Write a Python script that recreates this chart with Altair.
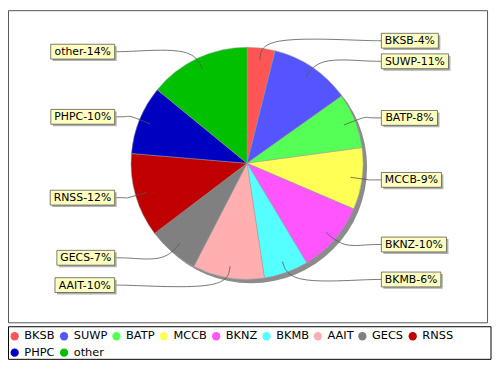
import math
import altair as alt
import pandas as pd

# ---- data ----
names = ["BKSB", "SUWP", "BATP", "MCCB", "BKNZ", "BKMB", "AAIT", "GECS", "RNSS", "PHPC", "other"]
shares = [3.9, 11.3, 7.7, 8.6, 10.0, 6.2, 10.0, 7.1, 11.7, 9.6, 14.1]
labels = ["BKSB-4%", "SUWP-11%", "BATP-8%", "MCCB-9%", "BKNZ-10%", "BKMB-6%",
          "AAIT-10%", "GECS-7%", "RNSS-12%", "PHPC-10%", "other-14%"]
colors = ["#FF5555", "#5555FF", "#55FF55", "#FFFF55", "#FF55FF", "#55FFFF",
          "#FFAFAF", "#808080", "#C00000", "#0000C0", "#00C000"]

# ---- layout ----
W, H = 490, 354
CX, CY, R = 242, 155, 117.5
LABEL_R = 125
RIGHT_X, LEFT_X = 378, 108
BOX_H = 15
FONT = "DejaVu Sans"
LFS = 11

ADV = {"A": 1401, "B": 1405, "C": 1430, "E": 1294, "G": 1577, "H": 1540, "I": 604,
       "K": 1339, "M": 1767, "N": 1532, "P": 1235, "R": 1423, "S": 1300, "T": 1251,
       "U": 1499, "W": 2025, "Z": 1403, "o": 1253, "t": 803, "h": 1298, "e": 1260,
       "r": 842, "-": 739, "%": 1946}


def text_w(s, fs):
    return sum(ADV.get(c, 1303) for c in s) / 2048 * fs


total = sum(shares)
pie_rows, box_rows, line_rows = [], [], []
cum = 0.0
for i, (n, v, lab) in enumerate(zip(names, shares, labels)):
    mid = 2 * math.pi * (cum + v / 2) / total
    cum += v
    pie_rows.append({"name": n, "share": v, "idx": i})
    s, c = math.sin(mid), math.cos(mid)
    ly = CY - LABEL_R * c
    tw = text_w(lab, LFS) + 7
    if s >= 0:
        x0, x1 = RIGHT_X, RIGHT_X + tw
        edge, anchor = x0, x0 - 14
    else:
        x0, x1 = LEFT_X - tw, LEFT_X
        edge, anchor = x1, x1 + 14
    box_rows.append({"name": n, "label": lab, "x0": x0, "x1": x1,
                     "y0": ly - BOX_H / 2, "y1": ly + BOX_H / 2,
                     "sx0": x0 + 2, "sx1": x1 + 2, "sy0": ly - BOX_H / 2 + 2,
                     "sy1": ly + BOX_H / 2 + 2, "tx": (x0 + x1) / 2, "ty": ly})
    pts = [(CX + 0.9 * R * s, CY - 0.9 * R * c),
           (CX + 1.1 * R * s, CY - 1.1 * R * c),
           (anchor, ly),
           (edge, ly)]
    for k, (px, py) in enumerate(pts):
        line_rows.append({"name": n, "pt": k, "x": px, "y": py})

pie_df = pd.DataFrame(pie_rows)
box_df = pd.DataFrame(box_rows)
line_df = pd.DataFrame(line_rows)
one = pd.DataFrame({"k": [0]})

xs = alt.Scale(domain=[0, W], range=[0, W], nice=False, zero=False)
ys = alt.Scale(domain=[0, H], range=[0, H], nice=False, zero=False)

plot_frame = alt.Chart(one).mark_rect(fill="white", stroke="#555555", strokeWidth=1).encode(
    x=alt.value(0.5), x2=alt.value(485.5), y=alt.value(0.5), y2=alt.value(316.5))
legend_frame = alt.Chart(one).mark_rect(fill="white", stroke="#000000", strokeWidth=1).encode(
    x=alt.value(0.5), x2=alt.value(489), y=alt.value(320.5), y2=alt.value(353.5))

shadow = alt.Chart(one).mark_arc(radius=R, theta=0, theta2=2 * math.pi, fill="#8c8c8c").encode(
    x=alt.value(CX + 4), y=alt.value(CY + 4))

pie = alt.Chart(pie_df).mark_arc(radius=R, stroke="#a0a0a0", strokeWidth=0.5).encode(
    theta=alt.Theta("share:Q", stack=True),
    order=alt.Order("idx:Q", sort="ascending"),
    color=alt.Color("name:N", scale=alt.Scale(domain=names, range=colors),
                    legend=alt.Legend(title=None, orient="none", legendX=1, legendY=324,
                                      direction="horizontal", columns=9, padding=0,
                                      symbolType="circle", symbolSize=70,
                                      symbolStrokeWidth=0, symbolOpacity=1,
                                      labelFont=FONT, labelFontSize=11.5, labelColor="#000000",
                                      labelOffset=4, columnPadding=3, rowPadding=4)),
    x=alt.value(CX), y=alt.value(CY))

links = alt.Chart(line_df).mark_line(interpolate="basis", color="#555555", strokeWidth=0.8).encode(
    x=alt.X("x:Q", scale=xs, axis=None), y=alt.Y("y:Q", scale=ys, axis=None),
    detail="name:N", order="pt:Q")

box_shadow = alt.Chart(box_df).mark_rect(fill="#b0b0b0").encode(
    x=alt.X("sx0:Q", scale=xs, axis=None), x2="sx1:Q",
    y=alt.Y("sy0:Q", scale=ys, axis=None), y2="sy1:Q")

boxes = alt.Chart(box_df).mark_rect(fill="#FFFFC0", stroke="#444444", strokeWidth=0.7).encode(
    x=alt.X("x0:Q", scale=xs, axis=None), x2="x1:Q",
    y=alt.Y("y0:Q", scale=ys, axis=None), y2="y1:Q")

texts = alt.Chart(box_df).mark_text(font=FONT, fontSize=LFS, color="#000000",
                                    align="center", baseline="middle", dy=0.5).encode(
    x=alt.X("tx:Q", scale=xs, axis=None), y=alt.Y("ty:Q", scale=ys, axis=None),
    text="label:N")

chart = alt.layer(plot_frame, legend_frame, shadow, pie, links, box_shadow, boxes, texts).properties(
    width=W, height=H, autosize=alt.AutoSizeParams(type="none"), padding=0,
    background="white"
).configure_view(stroke=None)

chart.save("out.html", embed_options={"renderer": "svg", "actions": False})
